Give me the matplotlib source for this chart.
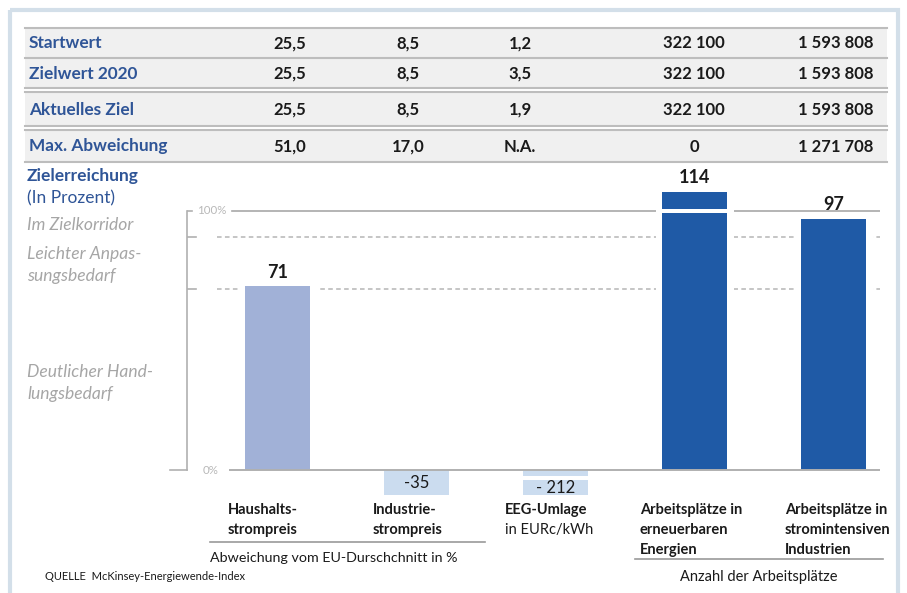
import matplotlib
matplotlib.use("Agg")
import matplotlib.pyplot as plt
from matplotlib.patches import Rectangle

plt.rcParams['font.family'] = ['Lato', 'DejaVu Sans']

# ---- table data ----
row_labels = ["Startwert", "Zielwert 2020", "Aktuelles Ziel", "Max. Abweichung"]
col_haushalt = ["25,5", "25,5", "25,5", "51,0"]
col_industrie = ["8,5", "8,5", "8,5", "17,0"]
col_eeg = ["1,2", "3,5", "1,9", "N.A."]
col_ee_jobs = ["322 100", "322 100", "322 100", "0"]
col_ind_jobs = ["1 593 808", "1 593 808", "1 593 808", "1 271 708"]

# ---- chart data ----
categories = ["Haushalts-\nstrompreis", "Industrie-\nstrompreis", "EEG-Umlage",
              "Arbeitsplätze in\nerneuerbaren\nEnergien",
              "Arbeitsplätze in\nstromintensiven\nIndustrien"]
unit_notes = ["", "", "in EURc/kWh", "", ""]
values = [71, -35, -212, 114, 97]
value_labels = ["71", "-35", "- 212", "114", "97"]
corridor_levels = [100, 90, 70]

W, H = 907, 593
fig = plt.figure(figsize=(W / 100, H / 100), dpi=100)
fig.patch.set_facecolor("white")

# overlay in pixel coordinates for table and annotations
ov = fig.add_axes([0, 0, 1, 1])
ov.set_xlim(0, W)
ov.set_ylim(H, 0)
ov.axis("off")

BLUE_TXT = "#2f5597"
GREY_TXT = "#a6a6a6"

# frame
ov.add_patch(Rectangle((10, 10), 888, 620, fill=False, ec="#d3dfe9", lw=3))

# table
bands = [(28, 57), (58, 88), (92, 126), (130, 161)]
col_x = [290, 408, 520, 694, 836]
columns = [col_haushalt, col_industrie, col_eeg, col_ee_jobs, col_ind_jobs]
for i, (y0, y1) in enumerate(bands):
    ov.add_patch(Rectangle((25, y0), 862, y1 - y0, fc="#f0f0f0", ec="none", zorder=1))
    yc = (y0 + y1) / 2 + 1
    ov.text(29, yc, row_labels[i], color=BLUE_TXT, fontsize=12.4, fontweight="bold",
            va="center", ha="left", zorder=3)
    for cx, col in zip(col_x, columns):
        ov.text(cx, yc, col[i], color="#1a1a1a", fontsize=12, fontweight="bold",
                va="center", ha="center", zorder=3)
for y in [28, 57.5, 88, 92, 126, 130, 161.5]:
    ov.plot([25, 887], [y, y], color="#bdbdbd", lw=1.5, zorder=2)

# left side legend texts
ov.text(27, 176, "Zielerreichung", color=BLUE_TXT, fontsize=12.5, fontweight="bold", va="center")
ov.text(27, 198, "(In Prozent)", color=BLUE_TXT, fontsize=12.5, va="center")
for y, t in [(225, "Im Zielkorridor"), (254, "Leichter Anpas-"), (276, "sungsbedarf"),
             (372, "Deutlicher Hand-"), (394, "lungsbedarf")]:
    ov.text(27, y, t, color=GREY_TXT, fontsize=12.6, fontstyle="italic", va="center")

# ---- bar chart ----
px_left, px_right, px_top, px_bot = 187, 880, 192, 495
ax = fig.add_axes([px_left / W, (H - px_bot) / H, (px_right - px_left) / W, (px_bot - px_top) / H])
ax.set_facecolor("none")
ppu = 2.59                      # pixels per percent point
y_lo = -(px_bot - 470) / ppu
y_hi = (470 - px_top) / ppu
spacing = 139.1
x_lo = (px_left - 277.5) / spacing
x_hi = (px_right - 277.5) / spacing
ax.set_xlim(x_lo, x_hi)
ax.set_ylim(y_lo, y_hi)
for s in ax.spines.values():
    s.set_visible(False)
ax.set_xticks([])
ax.set_yticks([])

def px2x(p):
    return (p - 277.5) / spacing

# axis line, ticks and corridor lines
ax.plot([x_lo, x_lo], [0, 100], color="#b0b0b0", lw=1.2, clip_on=False, zorder=1)
ax.plot([x_lo, px2x(192)], [100, 100], color="#b0b0b0", lw=1.2, zorder=1)
for lv in corridor_levels[1:]:
    ax.plot([x_lo, px2x(196)], [lv, lv], color="#b0b0b0", lw=1.2, zorder=1)
    ax.plot([px2x(217), x_hi], [lv, lv], color="#b5b5b5", lw=1.1, ls=(0, (3, 2.2)), zorder=1)
ax.plot([px2x(232), x_hi], [100, 100], color="#a8a8a8", lw=1.2, zorder=1)
ax.plot([px2x(170), x_lo], [0, 0], color="#b0b0b0", lw=1.2, clip_on=False, zorder=1)
ax.plot([px2x(230), x_hi], [0, 0], color="#b0b0b0", lw=1.4, zorder=5)
ax.text(px2x(197), 100, "100%", color="#b8b8b8", fontsize=8.3, va="center", ha="left")
ax.text(px2x(203), 0, "0%", color="#b8b8b8", fontsize=8.3, va="center", ha="left")

bar_colors = ["#a1b1d7", "#cbdcef", "#cbdcef", "#1f5aa6", "#1f5aa6"]
xs = list(range(len(values)))
bw = 65 / spacing
halo = 78 / spacing
for x, v, c in zip(xs, values, bar_colors):
    if v > 0:
        ax.bar(x, v, width=halo, color="white", zorder=2)
    ax.bar(x, v, width=bw, color=c, zorder=3)

# break marks on truncated bars
for x, v in zip(xs, values):
    if v > y_hi:
        ax.add_patch(Rectangle((x - halo / 2, 99.2), halo, 1.6, fc="white", ec="none", zorder=4))
    if v < -100:
        ax.add_patch(Rectangle((x - bw / 2, -3.8), bw, 1.5, fc="white", ec="none", zorder=4))

# value labels
for x, v, lab in zip(xs, values, value_labels):
    if v >= 0:
        ax.annotate(lab, (x, min(v, y_hi)), xytext=(0, 4), textcoords="offset points",
                    ha="center", va="bottom", fontsize=13, fontweight="bold",
                    color="#1a1a1a", annotation_clip=False)
    else:
        top = -3.8 if v < -100 else 0
        ax.text(x, (top + y_lo) / 2 - 0.3, lab, ha="center", va="center",
                fontsize=12, color="#1a1a1a")

# category labels
label_left = [228, 373, 505, 640, 785]
for lx, cat, note in zip(label_left, categories, unit_notes):
    lines = cat.split("\n")
    for k, ln in enumerate(lines):
        ov.text(lx, 510 + 20 * k, ln, fontsize=10.5, fontweight="bold", color="#1a1a1a",
                va="center", ha="left")
    if note:
        ov.text(lx, 510 + 20 * len(lines), note, fontsize=10.5, color="#1a1a1a",
                va="center", ha="left")

# group brackets
ov.plot([210, 485], [542, 542], color="#9a9a9a", lw=1.2)
ov.text(334, 558, "Abweichung vom EU-Durschchnitt in %", fontsize=10.3, color="#1a1a1a",
        ha="center", va="center")
ov.plot([635, 883], [559, 559], color="#9a9a9a", lw=1.2)
ov.text(759, 577, "Anzahl der Arbeitsplätze", fontsize=10.5, color="#1a1a1a",
        ha="center", va="center")

ov.text(45, 577, "QUELLE  McKinsey-Energiewende-Index", fontsize=8, color="#1a1a1a",
        ha="left", va="center")

fig.savefig("out.png", dpi=100)
